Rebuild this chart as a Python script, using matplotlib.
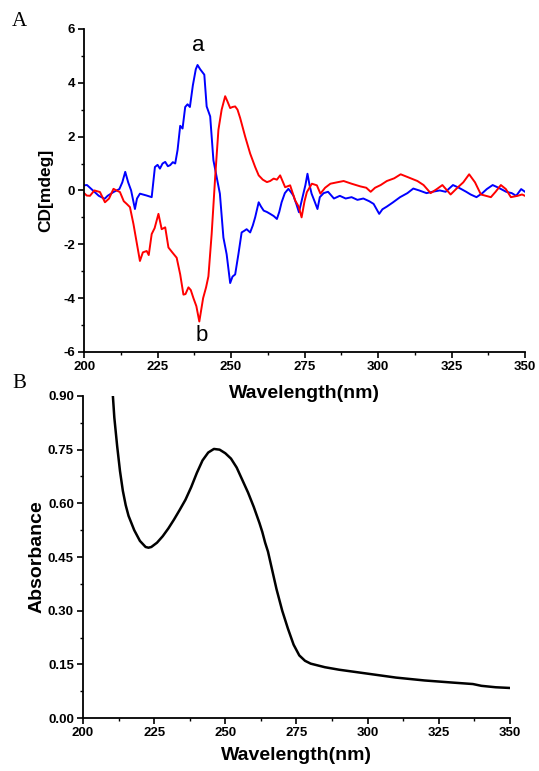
import matplotlib
matplotlib.use("Agg")
import matplotlib.pyplot as plt
from matplotlib.ticker import MultipleLocator, FormatStrFormatter

plt.rcParams['font.family'] = ['Liberation Sans', 'DejaVu Sans']
plt.rcParams['axes.unicode_minus'] = False

# CD spectrum, curve a (blue)
wl_a = [200, 201, 203, 205, 207, 208, 210, 212, 213, 214, 215, 216, 217.3, 218, 219, 220,
        221.3, 223, 224.1, 225, 225.8, 226.7, 227.6, 228.5, 229.3, 230.2, 231, 231.8, 232.7,
        233.5, 234.4, 235.2, 236, 237, 238, 238.6, 239.5, 240.9, 241.7, 242.9, 244, 245.1,
        246.2, 247.4, 248.5, 249.7, 250.5, 251.4, 252.5, 253.6, 254.5, 255.3, 256.5, 257.4,
        258.2, 259.4, 260.2, 261.1, 262.2, 263.3, 264.5, 265.6, 266.4, 267.2, 268.3, 269.5,
        270.3, 271.2, 272.2, 273.1, 274.6, 275.3, 276, 276.7, 277.4, 278.4, 279.4, 280.2,
        281.5, 283, 285, 287, 289, 291, 293, 295, 297, 298.5, 300.4, 301.5, 303, 305, 307.5,
        310, 312, 314, 316.5, 318.5, 321, 323, 325.5, 327.5, 330, 331.5, 333.5, 335.5, 337,
        339, 341, 343.6, 345.5, 347, 348.7, 350]
cd_a = [0.19, 0.2, 0.0, -0.2, -0.31, -0.2, -0.06, 0.05, 0.3, 0.69, 0.3, 0.0, -0.69, -0.3, -0.12, -0.15,
        -0.19, -0.25, 0.87, 0.95, 0.81, 1.0, 1.06, 0.9, 0.94, 1.05, 1.0, 1.5, 2.4,
        2.3, 3.1, 3.2, 3.1, 3.9, 4.5, 4.66, 4.5, 4.3, 3.12, 2.75, 1.12, 0.5,
        -0.12, -1.75, -2.37, -3.44, -3.2, -3.12, -2.37, -1.56, -1.5, -1.44, -1.56, -1.3,
        -1.0, -0.44, -0.6, -0.75, -0.8, -0.87, -0.95, -1.06, -0.8, -0.44, -0.1, 0.06,
        -0.05, -0.19, -0.5, -0.81, -0.12, 0.2, 0.62, 0.2, -0.12, -0.4, -0.69, -0.25,
        -0.1, -0.05, -0.3, -0.2, -0.3, -0.25, -0.35, -0.3, -0.4, -0.5, -0.87, -0.7, -0.6, -0.45, -0.25,
        -0.1, 0.07, 0.0, -0.1, -0.05, 0.0, -0.05, 0.2, 0.1, -0.05, -0.15, -0.25, -0.1, 0.05,
        0.2, 0.1, -0.05, -0.1, -0.2, 0.05, -0.05]

# CD spectrum, curve b (red)
wl_b = [200, 200.9, 202, 203.5, 205.4, 207.1, 208.5, 210, 211, 212.2, 213.5, 214.5, 215.6, 216.8,
        218, 219, 220, 221.3, 222, 223, 224, 225.3, 226.4, 227.6, 228.7, 230, 231.5, 232.7,
        233.8, 234.5, 235.5, 236.3, 237.2, 238.2, 239.2, 240.5, 241.5, 242.3, 243.4, 244.6,
        245.7, 246.8, 248, 248.8, 249.7, 250.5, 251.4, 252.2, 253.1, 254.8, 256.5, 258.2,
        259.4, 260.8, 262.2, 263.3, 264.5, 265.6, 266.7, 268.4, 270.1, 271.8, 273, 274, 275,
        275.8, 277.5, 279.2, 280.4, 282, 283.8, 286, 288.3, 291, 294, 296, 297.5, 299, 300.9,
        303, 305.5, 307.7, 310, 313.4, 315.5, 317.9, 320, 321.9, 324.7, 327, 329, 331, 333,
        335, 338.4, 340, 341.8, 343.5, 345.2, 347.5, 349, 350]
cd_b = [-0.1, -0.19, -0.2, 0.0, -0.06, -0.44, -0.3, 0.06, 0.0, -0.06, -0.4, -0.5, -0.62, -1.25,
        -2.0, -2.62, -2.3, -2.25, -2.4, -1.62, -1.4, -0.87, -1.44, -1.37, -2.12, -2.3, -2.5, -3.12,
        -3.87, -3.85, -3.6, -3.7, -4.0, -4.3, -4.87, -4.0, -3.6, -3.19, -1.62, 0.5,
        2.25, 3.0, 3.5, 3.3, 3.06, 3.1, 3.12, 3.0, 2.69, 2.0, 1.37, 0.87,
        0.56, 0.4, 0.31, 0.35, 0.44, 0.4, 0.56, 0.12, 0.19, -0.37, -0.6, -1.0, -0.4,
        -0.06, 0.25, 0.19, -0.12, 0.1, 0.25, 0.3, 0.35, 0.25, 0.15, 0.1, -0.05, 0.1, 0.2,
        0.35, 0.45, 0.6, 0.5, 0.35, 0.2, -0.1, 0.05, 0.2, -0.15, 0.1, 0.3, 0.6, 0.3,
        -0.15, -0.25, -0.05, 0.2, 0.05, -0.25, -0.2, -0.15, -0.2]

# UV absorbance spectrum
wl_abs = [210.5, 211, 212, 213, 214, 215, 216, 218, 220, 222, 223, 224, 226, 228, 230, 232, 234,
          236, 238, 240, 242, 244, 246, 248, 250, 252, 254, 256, 258, 260, 262, 263, 264, 265,
          266, 268, 270, 272, 274, 276, 278, 280, 285, 290, 300, 310, 320, 330, 337, 340, 345, 350]
absorb = [0.90, 0.84, 0.76, 0.69, 0.635, 0.595, 0.565, 0.525, 0.495, 0.478, 0.476, 0.478, 0.49,
          0.508, 0.53, 0.555, 0.582, 0.61, 0.645, 0.685, 0.72, 0.742, 0.752, 0.75, 0.74, 0.725,
          0.70, 0.665, 0.63, 0.59, 0.545, 0.52, 0.49, 0.465, 0.43, 0.36, 0.30, 0.25, 0.205,
          0.175, 0.16, 0.152, 0.142, 0.135, 0.124, 0.113, 0.105, 0.099, 0.095, 0.090, 0.086, 0.084]

fig = plt.figure(figsize=(5.39, 7.71), dpi=100)

def style_axes(ax):
    ax.patch.set_visible(False)
    for s in ['top', 'right']:
        ax.spines[s].set_visible(False)
    for s in ['left', 'bottom']:
        ax.spines[s].set_linewidth(1.3)
    ax.tick_params(which='major', direction='out', length=4, width=1.2, labelsize=9.5, pad=2.5)
    ax.tick_params(which='minor', direction='out', length=2.5, width=1.0)
    for t in ax.get_xticklabels() + ax.get_yticklabels():
        t.set_fontweight('bold')

# panel A
ax1 = fig.add_axes([0.156, 0.5435, 0.818, 0.419])
ax1.plot(wl_a, cd_a, color='#0000ff', lw=1.4)
ax1.plot(wl_b, cd_b, color='#ff0000', lw=1.4)
ax1.set_xlim(200, 350)
ax1.set_ylim(-6, 6)
ax1.xaxis.set_major_locator(MultipleLocator(25))
ax1.xaxis.set_minor_locator(MultipleLocator(12.5))
ax1.yaxis.set_major_locator(MultipleLocator(2))
ax1.yaxis.set_minor_locator(MultipleLocator(1))
style_axes(ax1)
ax1.set_xlabel('Wavelength(nm)', fontsize=14, fontweight='bold', labelpad=9)
ax1.set_ylabel('CD[mdeg]', fontsize=12.5, fontweight='bold', labelpad=7)
ax1.text(239, 5.4, 'a', fontsize=16, ha='center', va='center')
ax1.text(240, -5.4, 'b', fontsize=16, ha='center', va='center')

# panel B
ax2 = fig.add_axes([0.154, 0.0687, 0.792, 0.4177])
ax2.plot(wl_abs, absorb, color='black', lw=1.8)
ax2.set_xlim(200, 350)
ax2.set_ylim(0, 0.9)
ax2.xaxis.set_major_locator(MultipleLocator(25))
ax2.xaxis.set_minor_locator(MultipleLocator(12.5))
ax2.yaxis.set_major_locator(MultipleLocator(0.15))
ax2.yaxis.set_minor_locator(MultipleLocator(0.075))
ax2.yaxis.set_major_formatter(FormatStrFormatter('%.2f'))
style_axes(ax2)
ax2.set_xlabel('Wavelength(nm)', fontsize=14, fontweight='bold', labelpad=6)
ax2.set_ylabel('Absorbance', fontsize=14, fontweight='bold', labelpad=2)

fig.text(12 / 539, 1 - 22 / 771, 'A', fontsize=15, family='Liberation Serif', va='center', ha='left')
fig.text(12 / 539, 1 - 383 / 771, 'B', fontsize=15, family='Liberation Serif', va='center', ha='left')

fig.savefig('out.png', dpi=100)
